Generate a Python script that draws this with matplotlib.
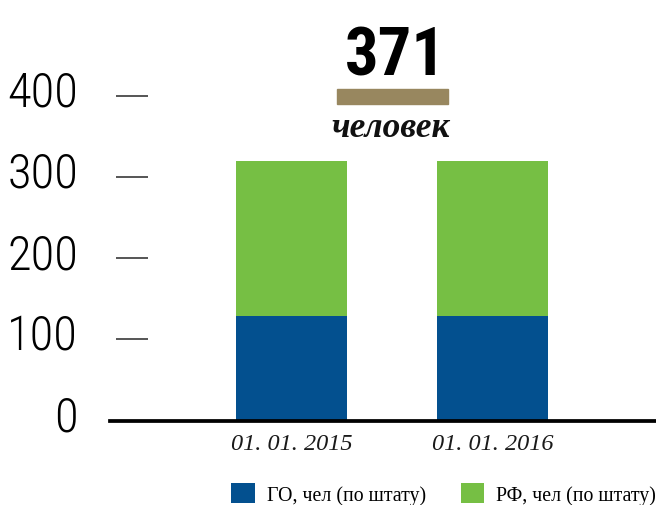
import os
import matplotlib
matplotlib.use('Agg')
import matplotlib.pyplot as plt
import matplotlib.transforms as mtransforms
from matplotlib import font_manager
from matplotlib.font_manager import FontProperties
from matplotlib.patches import Rectangle

dates = ['01. 01. 2015', '01. 01. 2016']
go_staff = [129, 129]
rf_staff = [191, 191]
series_names = ['ГО, чел (по штату)', 'РФ, чел (по штату)']
yticks = [0, 100, 200, 300, 400]
total_label = '371'
total_unit = 'человек'


def pick_font(names):
    files = {os.path.basename(f.fname): f.fname for f in font_manager.fontManager.ttflist}
    for n in names:
        if n in files:
            return FontProperties(fname=files[n]), n
    return FontProperties(family='DejaVu Sans'), None


thin_fp, thin_name = pick_font(['RobotoCondensed-Light.ttf', 'LiberationSansNarrow-Regular.ttf',
                                'RobotoCondensed-Regular.ttf', 'DejaVuSansCondensed.ttf'])
bold_fp, bold_name = pick_font(['RobotoCondensed-Bold.ttf', 'LiberationSansNarrow-Bold.ttf',
                                'DejaVuSansCondensed-Bold.ttf'])

W, H = 656, 506
fig = plt.figure(figsize=[W / 100, H / 100], dpi=100)
ax = fig.add_axes([110 / W, (H - 421.5) / H, 546 / W, (421.5 - 96.7) / H])

x = list(range(len(dates)))
b1 = ax.bar(x, go_staff, width=0.552, color='#03508f')
b2 = ax.bar(x, rf_staff, width=0.552, bottom=go_staff, color='#76bf44')

ax.set_xlim(-0.903, 1.813)
ax.set_ylim(0, 400)

for s in ['top', 'right']:
    ax.spines[s].set_visible(False)
ax.spines['bottom'].set_linewidth(2.7)
ax.spines['bottom'].set_color('black')
ax.spines['left'].set_position(('data', (148 - 291.5) / 201))
ax.spines['left'].set_visible(False)

ax.set_yticks(yticks)
ax.tick_params(axis='y', length=23, width=1.4, color='#555555', labelleft=False)
ax.set_xticks(x)
ax.set_xticklabels(dates, fontsize=17.5, family='Liberation Serif', style='italic', color='#1a1a1a')
ax.tick_params(axis='x', length=0, pad=9)

# big condensed y labels, sitting a bit above their ticks
ysize = 35 if thin_name else 25
lab_tr = mtransforms.offset_copy(ax.get_yaxis_transform(), fig=fig, x=0, y=-10, units='dots')
for v in yticks:
    t = ax.text((78 - 110) / 546, v, str(v), transform=lab_tr, ha='right', va='baseline',
                fontproperties=thin_fp, color='black')
    t.set_fontsize(ysize)

t = fig.text(395 / W, (H - 76) / H, total_label, ha='center', va='baseline',
             fontproperties=bold_fp, color='black')
t.set_fontsize(48 if bold_name else 40)
if not bold_name:
    t.set_fontweight('bold')
fig.patches.append(Rectangle((337 / W, (H - 105) / H), 111 / W, 15 / H,
                             transform=fig.transFigure, color='#98875f'))
fig.text(391 / W, (H - 137) / H, total_unit, ha='center', va='baseline',
         fontsize=25.5, family='Liberation Serif', style='italic', weight='bold', color='#111111')

fig.legend([b1, b2], series_names, loc='upper left', bbox_to_anchor=(231 / W, 22 / H),
           ncol=2, frameon=False, prop={'family': 'Liberation Serif', 'size': 14.3},
           handlelength=1.2, handleheight=1.15, handletextpad=0.6, columnspacing=1.75,
           borderpad=0, borderaxespad=0)

plt.savefig('out.png', dpi=100)
